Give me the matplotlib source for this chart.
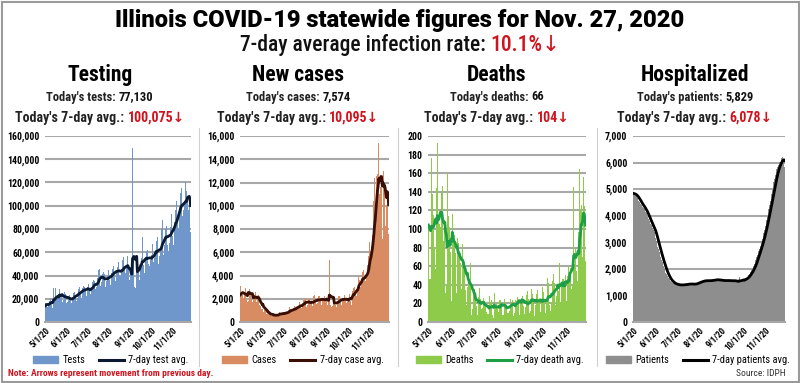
import numpy as np
import pandas as pd
import matplotlib
matplotlib.use("Agg")
import matplotlib.pyplot as plt
from matplotlib import font_manager
from matplotlib.ticker import FuncFormatter, MultipleLocator
from matplotlib.patches import Rectangle
from matplotlib.lines import Line2D

# ---------------- data ----------------
start_date = "2020-05-01"
tick_labels = ["5/1/20", "6/1/20", "7/1/20", "8/1/20", "9/1/20", "10/1/20", "11/1/20"]

# daily tests (thousands); prior = Apr 25-30 (only for 7-day avg)
tests_prior = [14.0, 13.0, 12.5, 14.5, 13.2, 15.0]
tests = [
    16.0, 19.4, 14.5, 13.1, 13.7, 14.3, 17.8,
    20.7, 20.3, 17.6, 12.0, 16.6, 29.3, 18.4,
    22.6, 29.0, 20.0, 15.0, 21.0, 24.0, 28.0,
    26.0, 24.5, 22.0, 20.0, 17.5, 18.5, 25.0,
    25.5, 24.0, 20.5, 16.5, 17.5, 19.0, 22.0,
    23.0, 21.5, 19.5, 16.0, 18.5, 21.5, 25.0,
    25.5, 27.0, 22.0, 18.0, 20.5, 25.0, 28.5,
    30.5, 29.0, 25.5, 21.0, 23.5, 29.0, 31.0,
    32.0, 30.5, 27.0, 22.5, 25.0, 30.5, 33.0,
    30.0, 28.0, 24.5, 26.0, 29.5, 34.0, 36.0,
    36.5, 35.0, 28.0, 26.5, 30.0, 38.0, 41.0,
    44.5, 46.0, 35.0, 31.0, 34.0, 38.0, 41.0,
    43.0, 41.0, 32.0, 30.0, 35.5, 39.0, 40.0,
    45.0, 44.0, 36.0, 32.0, 38.0, 42.5, 46.0,
    48.0, 49.5, 40.0, 35.0, 41.0, 45.0, 47.0,
    48.0, 52.0, 40.5, 33.0, 40.0, 46.0, 50.0,
    53.0, 55.5, 47.0, 38.0, 42.0, 49.0, 52.0,
    56.5, 47.0, 38.0, 36.0, 41.0, 22.5, 47.0,
    149.3, 55.0, 44.0, 30.0, 29.0, 38.0, 50.0,
    57.0, 60.0, 47.0, 36.0, 42.0, 50.0, 55.0,
    73.0, 60.0, 49.0, 42.0, 47.0, 54.0, 60.0,
    69.5, 62.0, 50.0, 43.0, 48.0, 53.0, 58.0,
    72.5, 67.0, 52.0, 47.0, 55.0, 62.0, 67.0,
    70.0, 73.5, 55.0, 50.0, 57.0, 64.0, 71.0,
    80.0, 88.0, 64.0, 58.0, 66.0, 74.0, 80.0,
    83.0, 87.0, 66.0, 61.0, 68.0, 76.0, 82.0,
    92.5, 95.0, 74.0, 66.0, 78.0, 86.0, 96.0,
    102.0, 104.0, 88.0, 81.0, 92.0, 100.0, 111.0,
    114.0, 115.0, 91.0, 85.0, 96.0, 104.0, 116.0,
    120.5, 113.0, 108.0, 95.0, 96.0, 108.0, 103.4,
    77.13,
]

cases_prior = [2100, 2100, 1800, 2200, 2500, 2600]
cases = [
    3100, 2700, 2300, 2300, 2100, 2300, 2300,
    2900, 2500, 2000, 1700, 4000, 1800, 2800,
    2400, 2400, 2000, 1700, 1600, 2400, 2300,
    2600, 2400, 1700, 2000, 1400, 2300, 1500,
    1600, 1400, 1100, 1100, 1600, 900, 1000,
    1100, 1000, 700, 650, 600, 900, 650,
    700, 620, 550, 600, 550, 550, 600,
    650, 600, 550, 550, 600, 700, 900,
    800, 650, 750, 500, 650, 900, 850,
    850, 900, 700, 650, 800, 1000, 1100,
    1300, 1100, 900, 800, 950, 1200, 1300,
    1400, 1250, 1100, 1200, 1200, 1400, 1600,
    1700, 1400, 1350, 1200, 1400, 1900, 1800,
    1950, 2100, 1450, 1300, 1500, 1800, 1950,
    2000, 1750, 1400, 1600, 1400, 1700, 2250,
    2300, 2000, 1600, 1550, 1650, 2000, 2200,
    2250, 2000, 1850, 1500, 1900, 1900, 2100,
    2200, 2000, 1900, 1800, 1450, 1700, 2000,
    5368, 1800, 1500, 1300, 1400, 1600, 1850,
    2000, 1800, 1500, 1300, 1500, 1800, 2200,
    2200, 2100, 1900, 1500, 1700, 2000, 2100,
    2300, 2200, 1900, 1600, 1400, 1750, 2000,
    3000, 2400, 1800, 1500, 2200, 2700, 2900,
    3000, 3000, 2400, 2200, 2700, 3000, 4000,
    4600, 3600, 3000, 2900, 3300, 4300, 4500,
    4600, 3900, 3500, 3500, 4000, 4900, 5700,
    6500, 6900, 6000, 5000, 6500, 7500, 9900,
    10400, 12400, 10000, 10600, 12600, 12700, 12700,
    15400, 11000, 11600, 11600, 12600, 7100, 14600,
    13000, 11900, 10000, 8300, 10000, 10700, 12191,
    7574,
]

deaths_prior = [80, 59, 59, 142, 144, 141]
deaths = [
    105, 63, 46, 46, 176, 136, 138,
    115, 80, 74, 57, 144, 192, 110,
    115, 105, 102, 59, 139, 146, 87,
    107, 110, 31, 39, 46, 160, 114,
    102, 85, 75, 23, 116, 113, 97,
    94, 74, 50, 31, 90, 85, 95,
    72, 63, 35, 29, 84, 62, 65,
    67, 34, 18, 38, 44, 48, 45,
    63, 25, 8, 14, 36, 30, 36,
    27, 17, 6, 8, 27, 37, 22,
    25, 14, 15, 8, 26, 23, 18,
    22, 11, 9, 9, 12, 28, 21,
    24, 13, 7, 4, 31, 21, 15,
    20, 14, 6, 11, 24, 24, 30,
    22, 8, 7, 12, 25, 20, 16,
    18, 10, 10, 12, 30, 25, 20,
    24, 13, 6, 10, 24, 38, 23,
    27, 20, 19, 8, 24, 26, 40,
    28, 17, 9, 9, 16, 29, 33,
    22, 25, 10, 12, 30, 35, 30,
    25, 20, 6, 18, 30, 26, 34,
    24, 21, 14, 11, 25, 38, 23,
    32, 21, 10, 12, 25, 47, 42,
    34, 18, 12, 22, 36, 44, 52,
    42, 28, 18, 28, 41, 69, 33,
    63, 22, 20, 42, 46, 46, 56,
    40, 51, 23, 33, 50, 60, 52,
    97, 58, 35, 40, 72, 145, 62,
    79, 52, 55, 44, 97, 127, 164,
    120, 126, 56, 70, 156, 125, 129,
    66,
]

patients_prior = [4850, 4860, 4830, 4880, 4840, 4830]
patients = [
    4810, 4800, 4790, 4760, 4740, 4700, 4650,
    4560, 4530, 4500, 4450, 4400, 4380, 4330,
    4290, 4260, 4200, 4140, 4090, 4020, 3950,
    3870, 3790, 3740, 3690, 3640, 3590, 3540,
    3460, 3370, 3280, 3180, 3040, 2950, 2840,
    2740, 2630, 2530, 2440, 2350, 2260, 2170,
    2090, 2010, 1930, 1860, 1790, 1730, 1680,
    1640, 1600, 1560, 1530, 1500, 1480, 1460,
    1450, 1430, 1420, 1410, 1420, 1400, 1390,
    1400, 1390, 1380, 1400, 1400, 1410, 1390,
    1400, 1410, 1420, 1410, 1430, 1420, 1430,
    1440, 1430, 1420, 1430, 1440, 1420, 1410,
    1420, 1430, 1440, 1450, 1460, 1470, 1490,
    1500, 1510, 1520, 1530, 1540, 1530, 1550,
    1560, 1570, 1560, 1550, 1540, 1550, 1560,
    1570, 1560, 1560, 1550, 1560, 1570, 1580,
    1590, 1600, 1590, 1580, 1590, 1600, 1580,
    1570, 1580, 1570, 1560, 1550, 1570, 1560,
    1550, 1560, 1570, 1560, 1550, 1560, 1570,
    1560, 1550, 1540, 1560, 1570, 1560, 1550,
    1540, 1550, 1530, 1520, 1510, 1520, 1530,
    1700, 1530, 1540, 1560, 1570, 1590, 1600,
    1610, 1620, 1640, 1660, 1690, 1720, 1760,
    1800, 1850, 1900, 1940, 1980, 2030, 2100,
    2180, 2260, 2350, 2430, 2510, 2600, 2680,
    2760, 2850, 2940, 3040, 3140, 3230, 3350,
    3470, 3600, 3720, 3850, 3980, 4120, 4260,
    4400, 4540, 4690, 4830, 4980, 5130, 5280,
    5400, 5520, 5640, 5750, 5850, 5910, 5970,
    6010, 6040, 6110, 6170, 6200, 6110, 6087,
    5829,
]

# ---------------- fonts ----------------
available = {f.name for f in font_manager.fontManager.ttflist}
NARROW = next((f for f in ["Roboto Condensed", "Liberation Sans Narrow", "Open Sans Condensed",
                           "Liberation Sans"] if f in available), "DejaVu Sans")
HEAVY = next((f for f in ["Roboto", "Lato", "Liberation Sans"] if f in available), "DejaVu Sans")
FAM_N = [NARROW, "Liberation Sans Narrow", "DejaVu Sans"]
FAM_H = [HEAVY, "DejaVu Sans"]

W, H = 800, 383
fig = plt.figure(figsize=(8.0, 3.83), dpi=100)
fig.patch.set_facecolor("white")
RED = "#d0141e"


def fx(px):
    return px / W


def fy(py):
    return 1 - py / H


renderer = fig.canvas.get_renderer()


def multi_text(xc, y, parts, size, weight="bold", family=FAM_N):
    """parts: (text, colour, gap_after_px)"""
    texts = []
    for s, c, g in parts:
        t = fig.text(0, 0, s, color=c, fontsize=size, fontweight=weight,
                     family=family, ha="left", va="center")
        texts.append((t, g))
    widths = [t.get_window_extent(renderer).width for t, _ in texts]
    total = sum(widths) + sum(g for _, g in texts[:-1])
    x = xc - total / 2
    for (t, g), w in zip(texts, widths):
        t.set_position((fx(x), fy(y)))
        x += w + g


# titles
fig.text(0.5, fy(20), "Illinois COVID-19 statewide figures for Nov. 27, 2020",
         ha="center", va="center", fontsize=17, fontweight="black", family=FAM_H)
multi_text(400, 45, [("7-day average infection rate:", "#111111", 5), ("10.1%↓", RED, 0)],
           size=15.5, weight="medium")

dates = pd.date_range(start_date, periods=len(tests))
tick_pos = pd.to_datetime(["2020-%d-01" % m for m in range(5, 12)])

panels = [
    dict(title="Testing", today=("Today's tests:", "77,130"), avg="100,075↓",
         prior=tests_prior, vals=tests, scale=1000, ymax=160000, step=20000,
         bar="#6f97cc", line="#0b1a33", lab=("Tests", "7-day test avg."),
         ax=(45, 191), xc=100, lc=111),
    dict(title="New cases", today=("Today's cases:", "7,574"), avg="10,095↓",
         prior=cases_prior, vals=cases, scale=1, ymax=16000, step=2000,
         bar="#d98b62", line="#3a0d05", lab=("Cases", "7-day case avg."),
         ax=(240, 389), xc=298, lc=303),
    dict(title="Deaths", today=("Today's deaths:", "66"), avg="104↓",
         prior=deaths_prior, vals=deaths, scale=1, ymax=200, step=20,
         bar="#8fcb4a", line="#1e9e45", lab=("Deaths", "7-day death avg."),
         ax=(428, 586), xc=497, lc=500),
    dict(title="Hospitalized", today=("Today's patients:", "5,829"), avg="6,078↓",
         prior=patients_prior, vals=patients, scale=1, ymax=7000, step=1000,
         bar="#8e8e8e", line="#000000", lab=("Patients", "7-day patients avg."),
         ax=(633, 785), xc=695, lc=698),
]

top_px, bot_px = 136, 322
for p in panels:
    x0, x1 = p["ax"]
    ax = fig.add_axes([fx(x0), fy(bot_px), (x1 - x0) / W, (bot_px - top_px) / H])
    vals = np.array(p["vals"], dtype=float) * p["scale"]
    allv = pd.Series(np.array(p["prior"] + p["vals"], dtype=float) * p["scale"])
    avg = allv.rolling(7).mean().to_numpy()[len(p["prior"]):]
    ax.bar(dates, vals, width=1.0, color=p["bar"], linewidth=0, zorder=2)
    ax.plot(dates, avg, color=p["line"], lw=2.0, zorder=3)
    ax.set_xlim(dates[0] - pd.Timedelta(hours=12), dates[-1] + pd.Timedelta(hours=12))
    ax.set_ylim(0, p["ymax"])
    ax.yaxis.set_major_locator(MultipleLocator(p["step"]))
    ax.yaxis.set_major_formatter(FuncFormatter(lambda v, _: f"{int(round(v)):,}"))
    ax.grid(axis="y", color="#a8a8a8", lw=1.5, zorder=0)
    ax.set_axisbelow(True)
    for s in ["top", "right", "left"]:
        ax.spines[s].set_visible(False)
    ax.spines["bottom"].set_color("#a8a8a8")
    ax.spines["bottom"].set_linewidth(1.5)
    ax.set_xticks(tick_pos)
    ax.set_xticklabels(tick_labels, rotation=45, ha="right", va="top",
                       rotation_mode="anchor", fontsize=6.5, family=FAM_N, fontweight="bold")
    ax.tick_params(axis="x", length=0, pad=3)
    ax.tick_params(axis="y", length=0, pad=4)
    for t in ax.get_yticklabels():
        t.set_fontsize(7)
        t.set_fontweight("bold")
        t.set_family(FAM_N)
    ax.set_facecolor("white")

    xc = p["xc"]
    fig.text(fx(xc), fy(75), p["title"], ha="center", va="center", fontsize=15.5,
             fontweight="bold", family=FAM_N)
    multi_text(xc, 97, [(p["today"][0], "#222222", 3), (p["today"][1], "#111111", 0)],
               size=9)
    multi_text(xc, 118, [("Today's 7-day avg.:", "#222222", 3), (p["avg"], RED, 0)],
               size=10)

    handles = [Rectangle((0, 0), 1, 1, color=p["bar"]), Line2D([], [], color=p["line"], lw=2.2)]
    fig.legend(handles, list(p["lab"]), loc="center", ncol=2, frameon=False,
               bbox_to_anchor=(fx(p["lc"]), fy(360)),
               prop=dict(family=FAM_N, size=7.5), handlelength=2.4, handleheight=0.6,
               columnspacing=1.3, handletextpad=0.4, borderpad=0.1)

# note and source
fig.text(fx(8), fy(373), "Note: Arrows represent movement from previous day.", color=RED,
         fontsize=6.8, fontweight="bold", family=FAM_N, ha="left", va="center")
fig.text(fx(786), fy(373), "Source: IDPH", color="#333333", fontsize=6.8,
         family=FAM_N, ha="right", va="center")

# frame and separators
fig.add_artist(Rectangle((fx(1.5), fy(381.5)), (W - 3) / W, (H - 3) / H, transform=fig.transFigure,
                         fill=False, edgecolor="#9a9a9a", lw=1.5))
for xs in [199, 398, 597]:
    fig.add_artist(Line2D([fx(xs), fx(xs)], [fy(128), fy(366)], transform=fig.transFigure,
                          color="#cfcfcf", lw=0.8))

fig.savefig("out.png", dpi=100, facecolor="white")
